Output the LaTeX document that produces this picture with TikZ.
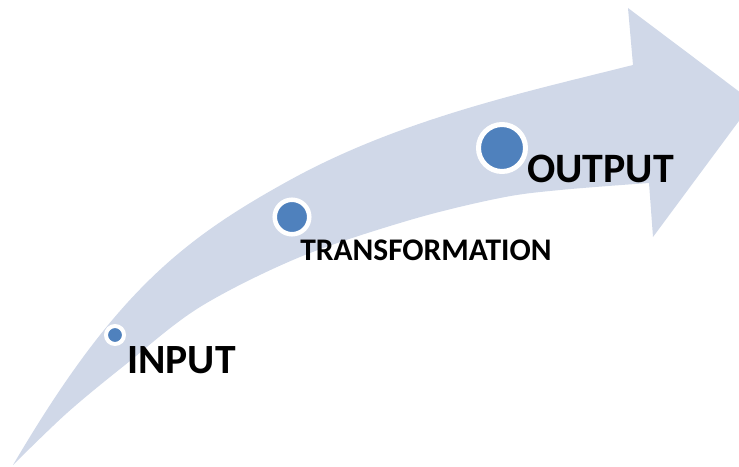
\documentclass[tikz,border=0pt]{standalone}
\usepackage{fontspec}
\setmainfont{Carlito}
\definecolor{bandcol}{HTML}{D0D8E8}
\definecolor{dotcol}{HTML}{4F81BD}
\begin{document}
\begin{tikzpicture}[x=0.75pt,y=-0.75pt,
  dot/.style={circle,fill=dotcol,draw=white,inner sep=0pt},
  lbl/.style={anchor=base west,inner sep=0pt,font=\bfseries,text=black}]
\useasboundingbox (0,0) rectangle (739,467);
\clip (0,0) rectangle (739,467);
\fill[bandcol] (13,465) .. controls (113,295) and (180,240.5) .. (290,180)
  .. controls (400,119.5) and (523,92.5) .. (633,65)
  -- (628,8) -- (753,102) -- (653,237) -- (649,183)
  -- plot[smooth,tension=0.55] coordinates {(649,183) (560,190) (500,198) (410,220) (300,257) (200,307) (125,365) (67,413) (13,465)} -- cycle;
\node[dot,minimum size=13.5pt,line width=3pt] (in) at (115,335) {};
\node[dot,minimum size=25.9pt,line width=3.4pt] (tr) at (292,217) {};
\node[dot,minimum size=35.25pt,line width=3.75pt] (out) at (502,148) {};
\node[lbl,font=\fontsize{31.2}{36}\selectfont\bfseries] (tin) at (127,373) {INPUT};
\node[lbl,font=\fontsize{23.6}{28}\selectfont\bfseries] (ttr) at (300,260) {TRANSFORMATION};
\node[lbl,font=\fontsize{31.4}{36}\selectfont\bfseries] (tout) at (527,182) {OUTPUT};
\end{tikzpicture}
\end{document}
